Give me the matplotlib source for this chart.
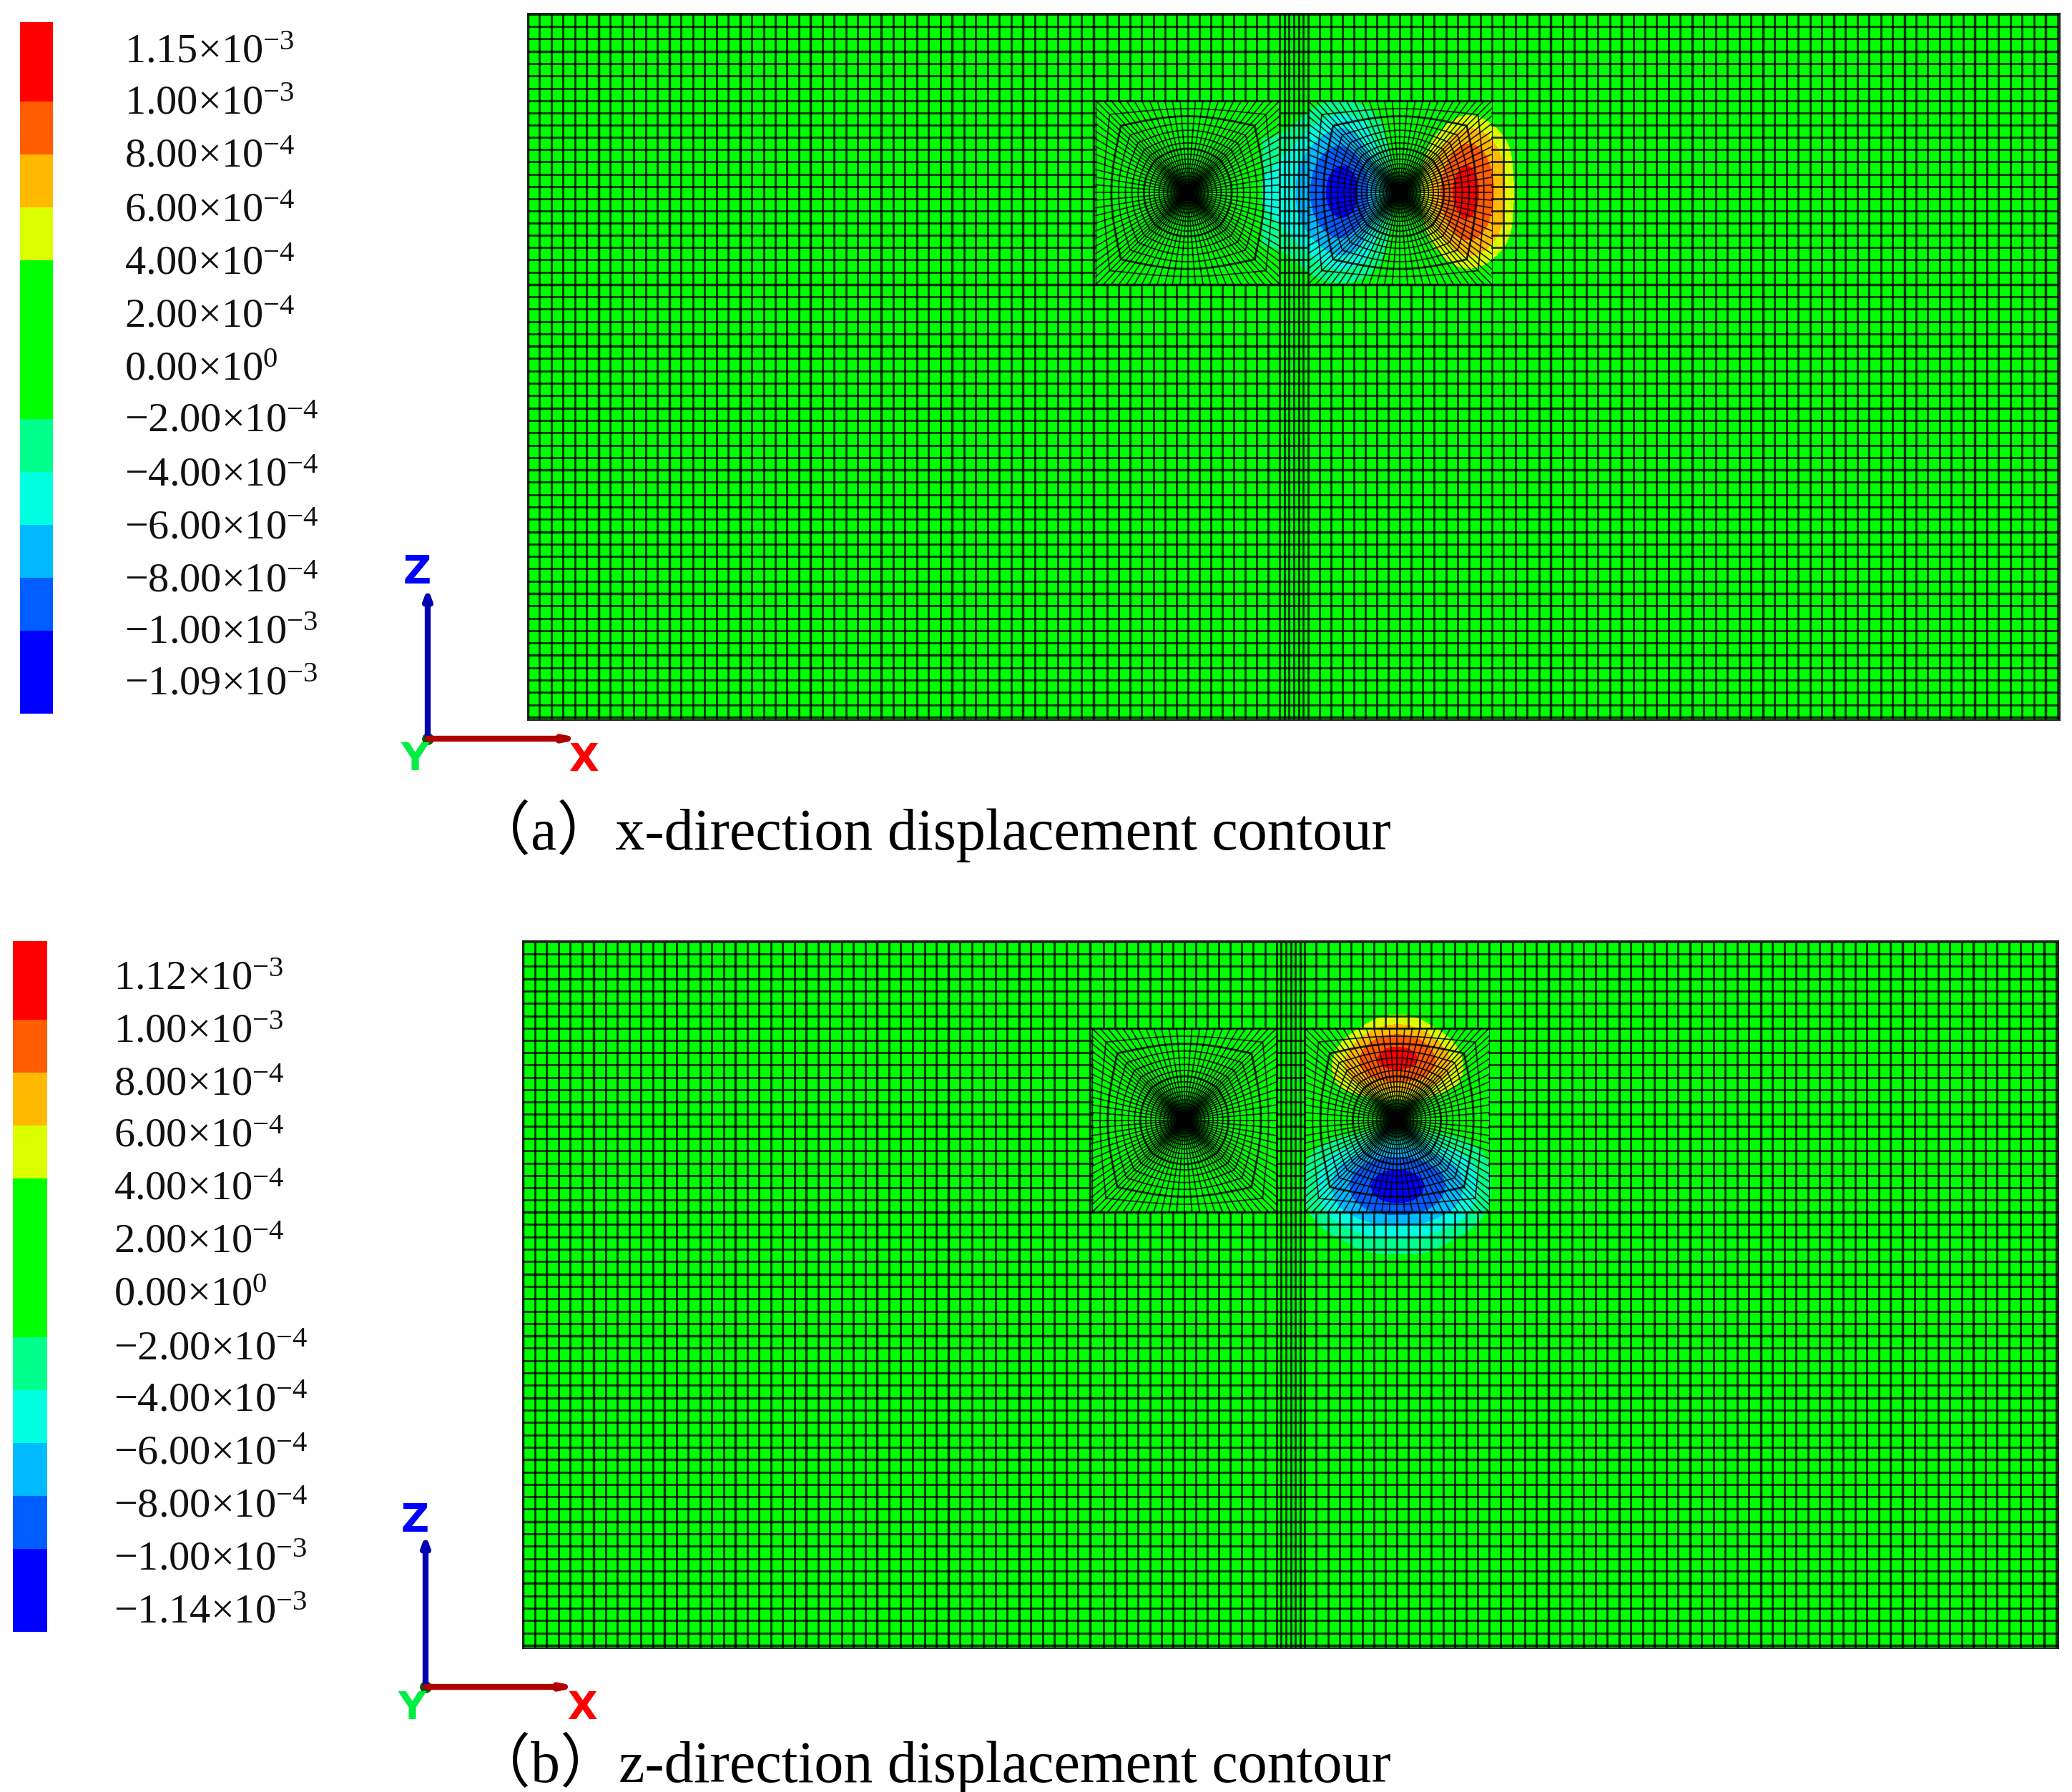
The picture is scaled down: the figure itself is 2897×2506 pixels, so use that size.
import numpy as np
import matplotlib
matplotlib.use("Agg")
import matplotlib.pyplot as plt
from matplotlib.colors import ListedColormap, BoundaryNorm

plt.rcParams['font.family'] = ['Liberation Serif', 'Noto Sans CJK SC']
plt.rcParams['mathtext.fontset'] = 'custom'
plt.rcParams['mathtext.rm'] = 'Liberation Serif'
plt.rcParams['mathtext.default'] = 'rm'

W, H = 2897, 2506

# legend values, top to bottom
labels_a = ['1.15×10$^{-3}$', '1.00×10$^{-3}$', '8.00×10$^{-4}$', '6.00×10$^{-4}$', '4.00×10$^{-4}$',
            '2.00×10$^{-4}$', '0.00×10$^{0}$', '−2.00×10$^{-4}$', '−4.00×10$^{-4}$', '−6.00×10$^{-4}$',
            '−8.00×10$^{-4}$', '−1.00×10$^{-3}$', '−1.09×10$^{-3}$']
labels_b = ['1.12×10$^{-3}$', '1.00×10$^{-3}$', '8.00×10$^{-4}$', '6.00×10$^{-4}$', '4.00×10$^{-4}$',
            '2.00×10$^{-4}$', '0.00×10$^{0}$', '−2.00×10$^{-4}$', '−4.00×10$^{-4}$', '−6.00×10$^{-4}$',
            '−8.00×10$^{-4}$', '−1.00×10$^{-3}$', '−1.14×10$^{-3}$']
band_colors = ['#ff0000', '#ff5d00', '#ffb900', '#dcff00', '#00ff00', '#00ff00', '#00ff00',
               '#00ff8c', '#00ffe0', '#00b9ff', '#005dff', '#0000ff']
# band limits in units of 1e-4, low to high
levels = [-12, -10, -8, -6, -4, -2, 0, 2, 4, 6, 8, 10, 12]

# displacement around the right hole, units of 1e-4
# x-direction: rows top to bottom, columns left to right
field_x = [
    [0.0, 0.0, 0.0, 0.0, 0.0, 0.0, 0.0, 0.0, 0.0, 0.0, 0.0, 0.0, 0.0],
    [0.0, -0.5, -2.0, -3.0, -2.5, -1.0, 0.0, 0.5, 1.5, 3.0, 2.0, 0.0, 0.0],
    [-1.0, -2.0, -4.5, -6.5, -6.0, -2.5, 0.0, 2.0, 4.0, 6.5, 6.0, 2.5, 0.0],
    [-3.0, -4.5, -7.0, -9.0, -7.5, -3.5, 0.0, 3.0, 6.5, 9.5, 8.0, 5.5, 0.0],
    [-4.0, -5.5, -8.5, -11.0, -10.5, -5.0, 0.0, 4.0, 8.0, 11.5, 9.0, 6.0, 0.0],
    [-4.0, -5.5, -9.0, -11.5, -11.0, -5.5, 0.0, 4.0, 9.0, 12.0, 9.5, 6.5, 0.0],
    [-4.0, -5.5, -8.5, -11.0, -10.5, -5.0, 0.0, 4.0, 8.0, 11.5, 9.0, 6.0, 0.0],
    [-3.0, -4.5, -7.0, -9.0, -7.5, -3.5, 0.0, 3.0, 6.5, 9.5, 8.0, 5.5, 0.0],
    [-1.0, -2.0, -4.5, -6.5, -6.0, -2.5, 0.0, 2.0, 4.0, 6.5, 6.0, 2.5, 0.0],
    [0.0, -0.5, -2.0, -3.0, -2.5, -1.0, 0.0, 0.5, 1.5, 3.0, 2.0, 0.0, 0.0],
    [0.0, 0.0, 0.0, 0.0, 0.0, 0.0, 0.0, 0.0, 0.0, 0.0, 0.0, 0.0, 0.0],
]
# z-direction: rows top to bottom, columns left to right
field_z = [
    [0.0, 0.0, 0.0, 0.0, 0.0, 0.0, 0.0, 0.0, 0.0, 0.0, 0.0],
    [0.0, 0.0, 0.0, 0.0, 3.0, 4.0, 3.0, 0.0, 0.0, 0.0, 0.0],
    [0.0, 0.0, 2.0, 5.0, 8.0, 8.5, 8.0, 5.0, 2.0, 0.0, 0.0],
    [0.0, 0.0, 4.5, 8.0, 11.0, 12.0, 11.0, 8.0, 4.5, 0.0, 0.0],
    [0.0, 0.0, 5.0, 7.0, 9.0, 9.5, 9.0, 7.0, 5.0, 0.0, 0.0],
    [0.0, 0.0, 2.0, 3.0, 4.0, 4.5, 4.0, 3.0, 2.0, 0.0, 0.0],
    [0.0, 0.0, 0.0, 0.0, 0.0, 0.0, 0.0, 0.0, 0.0, 0.0, 0.0],
    [0.0, -1.0, -2.0, -3.0, -4.5, -5.0, -4.5, -3.0, -2.0, -1.0, 0.0],
    [0.0, -3.0, -5.5, -7.5, -9.0, -9.5, -9.0, -7.5, -5.5, -3.0, 0.0],
    [0.0, -3.5, -6.5, -9.0, -11.0, -12.0, -11.0, -9.0, -6.5, -3.5, 0.0],
    [0.0, -3.0, -6.0, -8.0, -10.0, -10.5, -10.0, -8.0, -6.0, -3.0, 0.0],
    [0.0, -1.0, -3.5, -4.5, -5.5, -5.5, -5.5, -4.5, -3.5, -1.0, 0.0],
    [0.0, 0.0, 0.0, -2.0, -3.0, -3.0, -3.0, -2.0, 0.0, 0.0, 0.0],
    [0.0, 0.0, 0.0, 0.0, 0.0, 0.0, 0.0, 0.0, 0.0, 0.0, 0.0],
]

captions = ['（a）x-direction displacement contour', '（b）z-direction displacement contour']

cmap = ListedColormap(band_colors[::-1])
norm = BoundaryNorm(levels, cmap.N)

# mesh layout in element units
MW, MH = 130, 60
HOLE_Y = 44.8
HOLE_X = [56.0, 74.0]
HALF = 7.8
LW = 2.0
LW_BOLD = 2.5


def axes_px(fig, x0, y0, x1, y1):
    return fig.add_axes([x0 / W, 1 - y1 / H, (x1 - x0) / W, (y1 - y0) / H])


def draw_block(ax, cx, cy):
    # rays start equally spaced on the square, so they bunch along the axes
    side = np.arctan(np.linspace(-1, 1, 25))[:-1]
    theta = np.concatenate([side + k * np.pi / 2 for k in range(4)])
    big = np.maximum(np.abs(np.cos(theta)), np.abs(np.sin(theta)))
    sq = 1 / big
    rings = np.linspace(0.25, 1, 18) ** 2
    xs, ys = [], []
    for r in rings:
        w = r ** 3
        rad = HALF * r * ((1 - w) + w * sq)
        xs.append(cx + rad * np.cos(theta))
        ys.append(cy + rad * np.sin(theta))
    xs = np.array(xs)
    ys = np.array(ys)
    for i in range(len(rings)):
        lw = 2.0 if i in (10, 15) else 1.25
        if i == len(rings) - 1:
            lw = 0.8
        ax.plot(np.r_[xs[i], xs[i][0]], np.r_[ys[i], ys[i][0]], color='k', lw=lw, alpha=0.85, zorder=3)
    for j in range(len(theta)):
        ax.plot(np.r_[cx, xs[:, j]], np.r_[cy, ys[:, j]], color='k', lw=1.25, alpha=0.85, zorder=3)


def draw_panel(ax, field, col_x, row_y):
    ax.set_facecolor('#00ff00')
    cx = HOLE_X[1]
    dx = col_x[1] - col_x[0]
    dy = row_y[0] - row_y[1]
    ax.imshow(field, extent=[cx + col_x[0] - dx / 2, cx + col_x[-1] + dx / 2,
                             HOLE_Y + row_y[-1] - dy / 2, HOLE_Y + row_y[0] + dy / 2],
              cmap=cmap, norm=norm, interpolation='bicubic', interpolation_stage='data',
              aspect='auto', zorder=1)

    left = HOLE_X[0] - HALF
    gap0 = HOLE_X[0] + HALF
    gap1 = HOLE_X[1] - HALF
    right = HOLE_X[1] + HALF
    bot = HOLE_Y - HALF
    top = HOLE_Y + HALF

    # vertical lines
    vx_out = np.r_[np.arange(0, left + 0.01, 1.0), np.arange(right, MW, 1.0)]
    for n, x in enumerate(vx_out):
        if x == left or x == right:
            ax.plot([x, x], [0, bot], color='k', lw=LW, alpha=0.8, zorder=2)
            ax.plot([x, x], [top, MH], color='k', lw=LW, alpha=0.8, zorder=2)
        else:
            ax.plot([x, x], [0, MH], color='k', lw=LW_BOLD if n % 6 == 0 else LW, alpha=0.8, zorder=2)
    vx_fault = np.linspace(gap0, gap1, 7)
    for x in vx_fault:
        ax.plot([x, x], [0, MH], color='k', lw=LW, alpha=0.8, zorder=2)
    for a, b in ((left, gap0), (gap1, right)):
        for x in np.linspace(a, b, 17)[1:-1]:
            ax.plot([x, x], [0, bot], color='k', lw=LW, alpha=0.8, zorder=2)
            ax.plot([x, x], [top, MH], color='k', lw=LW, alpha=0.8, zorder=2)

    # horizontal lines
    hy_out = np.r_[np.arange(bot, 0, -1.05), np.arange(top, MH, 1.05)]
    for n, y in enumerate(hy_out):
        ax.plot([0, MW], [y, y], color='k', lw=LW_BOLD if n % 5 == 0 else LW, alpha=0.8, zorder=2)
    for y in np.linspace(bot, top, 16)[1:-1]:
        for a, b in ((0, left), (gap0, gap1), (right, MW)):
            ax.plot([a, b], [y, y], color='k', lw=LW, alpha=0.8, zorder=2)

    for cx_h in HOLE_X:
        draw_block(ax, cx_h, HOLE_Y)

    ax.set_xlim(0, MW)
    ax.set_ylim(0, MH)
    ax.set_xticks([])
    ax.set_yticks([])
    for s in ax.spines.values():
        s.set_linewidth(1.5)
        s.set_color('#222222')


def draw_legend(ov, bar_x, edges, labels, text_x, text_y):
    for k, c in enumerate(band_colors):
        ov.bar(bar_x[0], edges[k + 1] - edges[k], width=bar_x[1] - bar_x[0], bottom=edges[k],
               align='edge', color=c, lw=0)
    for lab, y in zip(labels, text_y):
        ov.text(text_x, y, lab, fontsize=42, ha='left', va='center_baseline', color='#111111')


def draw_triad(ov, ox, oy, z_tip, x_tip, z_lab, y_lab, x_lab):
    ov.annotate('', xy=(ox, z_tip), xytext=(ox, oy),
                arrowprops=dict(arrowstyle='-|>,head_width=0.28,head_length=0.75', color='#0000b0', lw=6, shrinkA=0, shrinkB=0))
    ov.annotate('', xy=(x_tip, oy), xytext=(ox, oy),
                arrowprops=dict(arrowstyle='-|>,head_width=0.18,head_length=0.9', color='#b00000', lw=6, shrinkA=0, shrinkB=0))
    ov.plot([ox], [oy], 'o', ms=11, color='#006000')
    font = dict(fontsize=39, fontweight='bold', ha='center', va='center', family='DejaVu Sans')
    ov.text(*z_lab, 'Z', color='#0000ff', **font)
    ov.text(*y_lab, 'Y', color='#00ee44', **font)
    ov.text(*x_lab, 'X', color='#ff0000', **font)


fig = plt.figure(figsize=(W / 100, H / 100), dpi=100, facecolor='white')

ax_a = axes_px(fig, 738, 19, 2880, 1007)
ax_b = axes_px(fig, 731, 1316, 2878, 2305)

u = 1.8
draw_panel(ax_a, field_x, u * np.arange(-6, 7), u * np.arange(5, -6, -1))
draw_panel(ax_b, field_z, u * np.arange(-5, 6), u * np.arange(6, -8, -1))

ov = fig.add_axes([0, 0, 1, 1], facecolor='none')
ov.set_xlim(0, W)
ov.set_ylim(H, 0)
ov.axis('off')

edges_a = [31, 142, 216, 290, 364, 438, 512, 586, 660, 734, 808, 882, 998]
edges_b = [1316, 1426, 1500, 1574, 1648, 1722, 1796, 1870, 1944, 2018, 2092, 2166, 2282]
text_y_a = [68, 140, 214, 290, 364, 438, 512, 584, 660, 734, 808, 880, 952]
text_y_b = [1364, 1437, 1511, 1583, 1657, 1731, 1805, 1881, 1953, 2027, 2101, 2175, 2249]
draw_legend(ov, (28, 74), edges_a, labels_a, 174, text_y_a)
draw_legend(ov, (18, 66), edges_b, labels_b, 159, text_y_b)

draw_triad(ov, 598, 1033, 822, 815, (583, 800), (580, 1062), (817, 1063))
draw_triad(ov, 595, 2359, 2146, 811, (580, 2126), (576, 2389), (815, 2389))

ov.text(660, 1162, captions[0], fontsize=59, ha='left', va='center')
ov.text(660, 2466, captions[1], fontsize=59, ha='left', va='center')

fig.savefig('out.png', dpi=100)
